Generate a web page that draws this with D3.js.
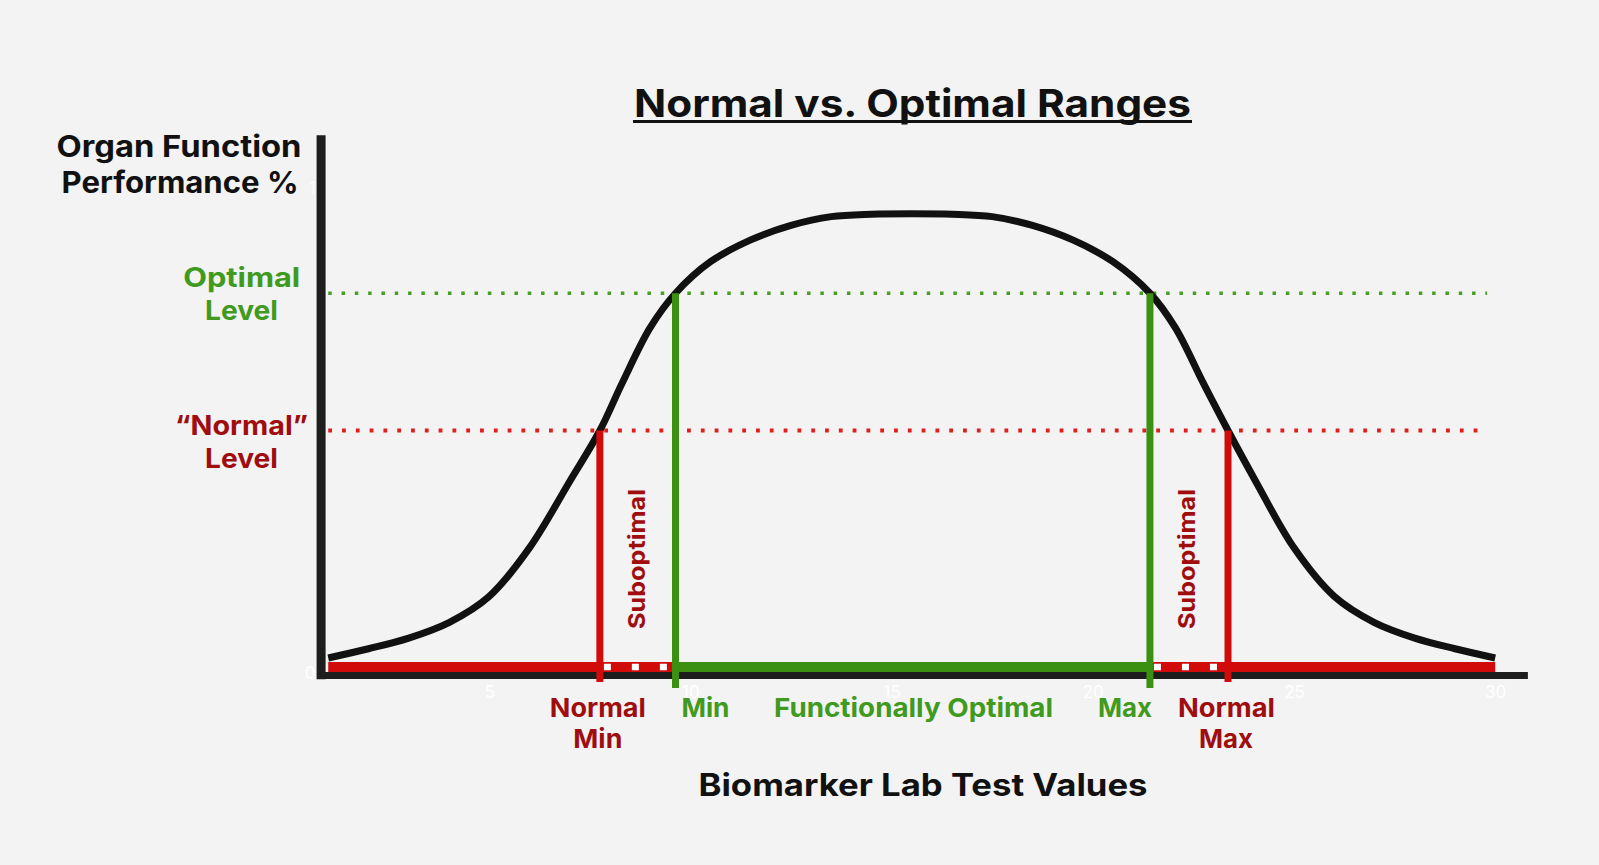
<!DOCTYPE html>
<html>
<head>
<meta charset="utf-8">
<script src="https://cdn.jsdelivr.net/npm/d3@7/dist/d3.min.js"></script>
<style>
  html, body { margin: 0; padding: 0; background: #f3f3f3; }
  svg { display: block; }
  text { font-family: Inter, "Open Sans", sans-serif; }
</style>
</head>
<body>
<svg id="chart" width="1599" height="865"></svg>
<script>
// ---------------- DATA ----------------
const curveX = [1, 2, 3, 4, 5, 6, 7, 7.75, 8.3, 9, 9.63, 10.5, 11.5, 12.5, 13.5, 14.5, 15.5,
                16.5, 17.5, 18.5, 19.5, 20.5, 21.42, 22.05, 22.75, 23.36, 24.05, 25, 26, 27, 28, 29, 30];
const curveY = [0.031, 0.050, 0.072, 0.104, 0.158, 0.258, 0.395, 0.5, 0.597, 0.712, 0.783, 0.848, 0.893, 0.923, 0.941, 0.946, 0.947,
                0.946, 0.941, 0.923, 0.893, 0.848, 0.783, 0.712, 0.597, 0.5, 0.395, 0.258, 0.158, 0.104, 0.072, 0.050, 0.031];
const xTicks = [5, 10, 15, 20, 25, 30];
const yTicks = [0, 1];
const levelValues = [0.5, 0.783];           // "Normal" level, Optimal level
const markerValues = [7.75, 9.63, 21.42, 23.36]; // Normal Min, Optimal Min, Optimal Max, Normal Max
const rangeExtent = [1, 30];
const levelLineEnd = 29.8;

// ---------------- SETUP ----------------
const svg = d3.select("#chart");
const W = 1599, H = 865;
const RED = "#d10a0a", DARKRED = "#9f0d0f", GREEN = "#3b9012", GREENTXT = "#3f9a1e", BLACK = "#111111", AXIS = "#1d1d1d";

svg.append("rect").attr("width", W).attr("height", H).attr("fill", "#f3f3f3");

const xScale = d3.scaleLinear().domain([0, 30]).range([288, 1495.2]);
const yScale = d3.scaleLinear().domain([0, 1]).range([673, 188]);

const [normalLevel, optimalLevel] = levelValues;
const [normalMin, optimalMin, optimalMax, normalMax] = markerValues;

// ---------------- AXES ----------------
const axisLeftX = 0.81, axisRightX = 30.8, axisTopY = 1.11, axisBottomY = -0.012;
const xAxisScale = d3.scaleLinear().domain([axisLeftX, axisRightX]).range([xScale(axisLeftX), xScale(axisRightX)]);
const yAxisScale = d3.scaleLinear().domain([axisBottomY, axisTopY]).range([yScale(axisBottomY), yScale(axisTopY)]);

const gx = svg.append("g")
  .attr("transform", `translate(0,${yScale(0) + 2})`)
  .call(d3.axisBottom(xAxisScale).tickValues(xTicks).tickFormat(d3.format("d")).tickSize(0).tickSizeOuter(0).tickPadding(11));
gx.select(".domain").attr("stroke", AXIS).attr("stroke-width", 7);
gx.selectAll("text").attr("fill", "#ffffff").attr("font-size", 17).attr("font-family", "Inter, sans-serif");

const gy = svg.append("g")
  .attr("transform", `translate(${xScale(axisLeftX)},0)`)
  .call(d3.axisLeft(yAxisScale).tickValues(yTicks).tickFormat(d3.format("d")).tickSize(0).tickSizeOuter(0).tickPadding(5));
gy.select(".domain").attr("stroke", AXIS).attr("stroke-width", 9);
gy.selectAll("text").attr("fill", "#ffffff").attr("font-size", 17).attr("font-family", "Inter, sans-serif");

// ---------------- LEVEL LINES ----------------
svg.append("line")
  .attr("x1", xScale(rangeExtent[0])).attr("x2", xScale(levelLineEnd))
  .attr("y1", yScale(optimalLevel)).attr("y2", yScale(optimalLevel))
  .attr("stroke", "#47a023").attr("stroke-width", 3.5).attr("stroke-dasharray", "3.5 9.8");
svg.append("line")
  .attr("x1", xScale(rangeExtent[0])).attr("x2", xScale(levelLineEnd))
  .attr("y1", yScale(normalLevel)).attr("y2", yScale(normalLevel))
  .attr("stroke", "#e01e1e").attr("stroke-width", 3.8).attr("stroke-dasharray", "3.8 10");

// ---------------- CURVE ----------------
const pts = curveX.map((x, i) => [x, curveY[i]]);
const line = d3.line().x(d => xScale(d[0])).y(d => yScale(d[1])).curve(d3.curveCatmullRom.alpha(0.5));
svg.append("path").attr("d", line(pts)).attr("fill", "none").attr("stroke", BLACK).attr("stroke-width", 7);

// ---------------- BOTTOM BANDS ----------------
const bandY = yScale(0) - 6;
svg.append("line")
  .attr("x1", xScale(rangeExtent[0])).attr("x2", xScale(rangeExtent[1]))
  .attr("y1", bandY).attr("y2", bandY)
  .attr("stroke", RED).attr("stroke-width", 10);
svg.append("line")
  .attr("x1", xScale(optimalMin)).attr("x2", xScale(optimalMax))
  .attr("y1", bandY).attr("y2", bandY)
  .attr("stroke", GREEN).attr("stroke-width", 10);
// white dotted pattern on suboptimal segments
[[normalMin, optimalMin], [optimalMax, normalMax]].forEach(([a, b]) => {
  svg.append("line")
    .attr("x1", xScale(a) + 4).attr("x2", xScale(b) - 3)
    .attr("y1", bandY).attr("y2", bandY)
    .attr("stroke", "#ffffff").attr("stroke-width", 6.5).attr("stroke-dasharray", "7 21");
});

// ---------------- VERTICAL MARKERS ----------------
[[normalMin, normalLevel, RED, 9], [normalMax, normalLevel, RED, 9],
 [optimalMin, optimalLevel, GREEN, 15], [optimalMax, optimalLevel, GREEN, 15]].forEach(([x, lv, c, ext]) => {
  svg.append("line")
    .attr("x1", xScale(x)).attr("x2", xScale(x))
    .attr("y1", yScale(lv)).attr("y2", yScale(0) + ext)
    .attr("stroke", c).attr("stroke-width", 7);
});

// ---------------- TEXT ----------------
function label(txt, x, y, size, color, width) {
  const t = svg.append("text")
    .attr("x", x).attr("y", y)
    .attr("text-anchor", "middle")
    .attr("font-size", size).attr("font-weight", 700)
    .attr("fill", color)
    .text(txt);
  if (width) t.attr("textLength", width).attr("lengthAdjust", "spacingAndGlyphs");
  return t;
}

// Title
label("Normal vs. Optimal Ranges", 912.5, 117, 38, BLACK, 557);
svg.append("line").attr("x1", 633).attr("x2", 1192).attr("y1", 121.5).attr("y2", 121.5)
  .attr("stroke", BLACK).attr("stroke-width", 3);

// Y axis title
label("Organ Function", 179, 157, 30, BLACK, 245);
label("Performance %", 180, 193, 30, BLACK, 237);

// Level labels
label("Optimal", 241.7, 287, 27, GREENTXT, 117);
label("Level", 241.5, 320, 27, GREENTXT, 73);
label("\u201CNormal\u201D", 241.5, 435, 27, DARKRED, 133);
label("Level", 241.5, 468, 27, DARKRED, 73);

// Bottom labels
label("Normal", xScale(normalMin) - 2, 717, 26, DARKRED, 96);
label("Min", xScale(normalMin) - 2, 747.5, 26, DARKRED, 49);
label("Min", xScale(optimalMin) + 30, 717, 26, GREENTXT, 48);
label("Functionally Optimal", 913.5, 717, 26, GREENTXT, 279);
label("Max", xScale(optimalMax) - 25, 717, 26, GREENTXT, 54);
label("Normal", xScale(normalMax) - 1.5, 717, 26, DARKRED, 97);
label("Max", xScale(normalMax) - 2, 747.5, 26, DARKRED, 54);

// X axis title
label("Biomarker Lab Test Values", 923, 796, 31, BLACK, 449);

// Suboptimal (rotated)
[[645, 559], [1195, 559]].forEach(([x, y]) => {
  svg.append("text")
    .attr("transform", `translate(${x},${y}) rotate(-90)`)
    .attr("text-anchor", "middle")
    .attr("font-size", 23).attr("font-weight", 700)
    .attr("fill", DARKRED)
    .attr("textLength", 140).attr("lengthAdjust", "spacingAndGlyphs")
    .text("Suboptimal");
});
</script>
</body>
</html>
